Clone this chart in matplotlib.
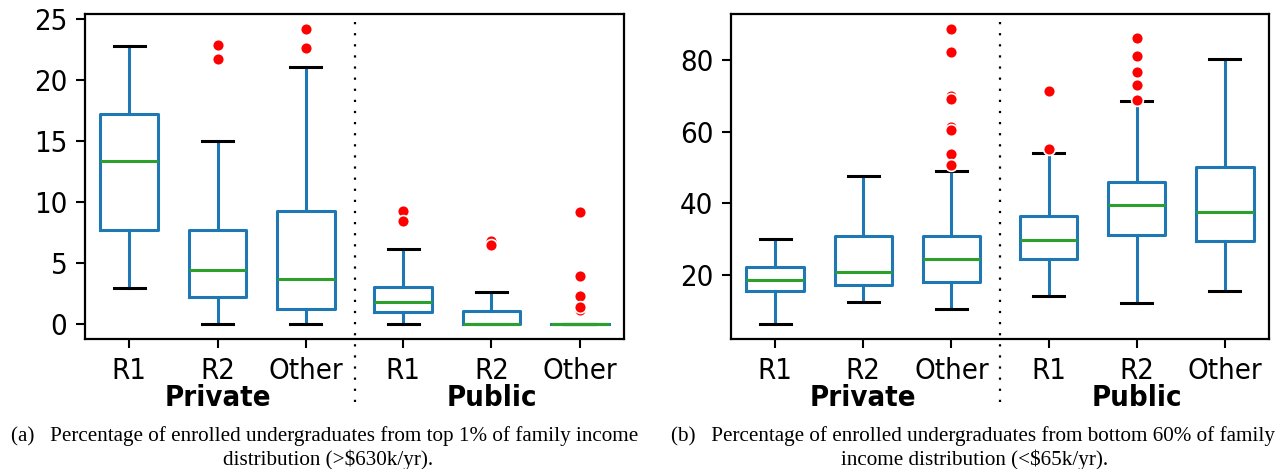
import matplotlib
matplotlib.use('Agg')
import matplotlib.pyplot as plt
from matplotlib import font_manager
from matplotlib.transforms import blended_transform_factory

# ---------------- data ----------------
categories = ['R1', 'R2', 'Other', 'R1', 'R2', 'Other']
groups = ['Private', 'Public']

# (a) top 1%
a_whislo = [3.0, 0.0, 0.0, 0.0, 0.0, 0.0]
a_q1 = [7.7, 2.24, 1.23, 0.98, 0.0, 0.0]
a_med = [13.4, 4.48, 3.74, 1.86, 0.0, 0.0]
a_q3 = [17.2, 7.73, 9.29, 3.09, 1.07, 0.0]
a_whishi = [22.8, 15.0, 21.1, 6.2, 2.6, 0.0]
a_fliers = [[], [22.9, 21.7], [24.2, 22.6], [9.29, 8.44], [6.8, 6.48],
            [9.18, 3.96, 2.3, 1.15, 1.45]]

# (b) bottom 60%
b_whislo = [6.2, 12.3, 10.5, 14.0, 12.2, 15.6]
b_q1 = [15.4, 17.1, 18.0, 24.4, 31.1, 29.5]
b_med = [18.6, 20.8, 24.3, 29.7, 39.5, 37.6]
b_q3 = [22.3, 31.0, 30.8, 36.4, 46.1, 50.2]
b_whishi = [30.0, 47.7, 49.1, 54.0, 68.5, 80.4]
b_fliers = [[], [], [88.8, 82.2, 69.9, 69.2, 61.3, 60.6, 53.8, 50.6],
            [71.3, 55.3], [86.3, 81.3, 76.7, 73.0, 68.8], []]

captions_a = ["(a)   Percentage of enrolled undergraduates from top 1% of family income",
              "distribution (>\\$630k/yr)."]
captions_b = ["(b)   Percentage of enrolled undergraduates from bottom 60% of family",
              "income distribution (<\\$65k/yr)."]

# ---------------- layout ----------------
positions = [1, 2, 3, 4.1, 5.1, 6.1]
W, H = 1278, 469
fig = plt.figure(figsize=(W / 100, H / 100), dpi=100)

condensed = any('Condensed' in f.fname for f in font_manager.fontManager.ttflist
                if f.name.startswith('DejaVu Sans'))
plt.rcParams['font.family'] = ['DejaVu Sans']
if condensed:
    plt.rcParams['font.stretch'] = 'condensed'
    FS = 21
else:
    FS = 19


def make_stats(wl, q1, med, q3, wh, fl):
    return [dict(whislo=wl[i], q1=q1[i], med=med[i], q3=q3[i], whishi=wh[i],
                 fliers=fl[i], label=categories[i]) for i in range(len(wl))]


def draw(ax, stats, yticks):
    ax.bxp(stats, positions=positions, widths=0.65, capwidths=0.35,
           showfliers=True,
           boxprops=dict(color='#1f77b4', linewidth=2.2),
           whiskerprops=dict(color='#1f77b4', linewidth=2.2),
           capprops=dict(color='black', linewidth=2.2),
           medianprops=dict(color='#2ca02c', linewidth=2.2),
           flierprops=dict(marker='o', markerfacecolor='red', markeredgecolor='white',
                           markersize=8.5, markeredgewidth=1.2, linestyle='none'))
    ax.set_xlim(0.5, positions[-1] + 0.5)
    ax.set_yticks(yticks)
    ax.set_xticks(positions)
    ax.set_xticklabels(categories)
    ax.tick_params(labelsize=FS, length=6.8, width=1.5, pad=6)
    for sp in ax.spines.values():
        sp.set_linewidth(1.6)
    tr = blended_transform_factory(ax.transData, ax.transAxes)
    xm = (positions[2] + positions[3]) / 2
    ax.plot([xm, xm], [0.975, -0.215], transform=tr, clip_on=False, color='black',
            linewidth=1.6, linestyle=(0, (1, 4.0)))
    ax.text(positions[1], -0.183, groups[0], transform=tr, ha='center', va='center',
            fontsize=FS, fontweight='bold')
    ax.text(positions[4], -0.183, groups[1], transform=tr, ha='center', va='center',
            fontsize=FS, fontweight='bold')


ax1 = fig.add_axes([85 / W, 130 / H, 539 / W, 325 / H])
draw(ax1, make_stats(a_whislo, a_q1, a_med, a_q3, a_whishi, a_fliers), [0, 5, 10, 15, 20, 25])

ax2 = fig.add_axes([731 / W, 130 / H, 538 / W, 325 / H])
draw(ax2, make_stats(b_whislo, b_q1, b_med, b_q3, b_whishi, b_fliers), [20, 40, 60, 80])

cap_font = dict(family=['Liberation Serif', 'DejaVu Serif'], fontsize=15.2, ha='center',
                va='center', stretch='normal')
fig.text(325 / W, 1 - 436 / H, captions_a[0], **cap_font)
fig.text(328 / W, 1 - 460 / H, captions_a[1], **cap_font)
fig.text(973 / W, 1 - 436 / H, captions_b[0], **cap_font)
fig.text(975 / W, 1 - 460 / H, captions_b[1], **cap_font)

fig.savefig('out.png', dpi=100)
